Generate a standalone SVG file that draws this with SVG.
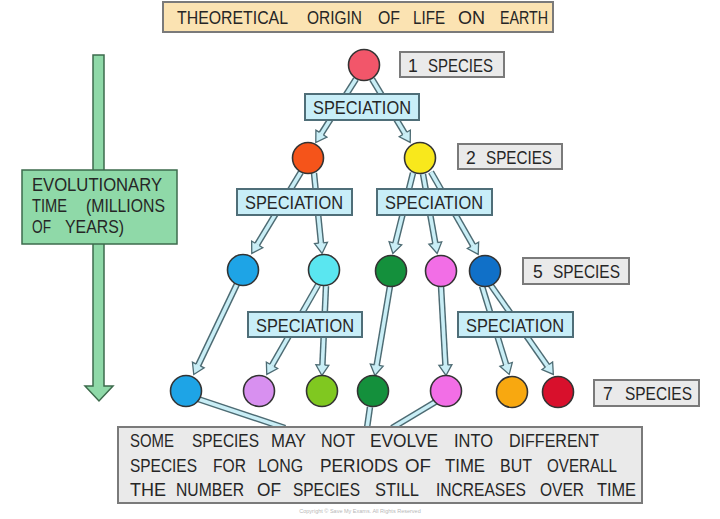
<svg xmlns="http://www.w3.org/2000/svg" width="720" height="519" viewBox="0 0 720 519">
<defs>
<style>
.t{font-family:"Liberation Sans",Arial,sans-serif;font-size:17.5px;fill:#262626;}
.sp{fill:#c8eef8;stroke:#4f6e78;stroke-width:2;}
.gb{fill:#eaeaea;stroke:#7a7a7a;stroke-width:2;}
.ao{stroke:#4d6b73;stroke-width:6.5;fill:none;}
.ai{stroke:#c9eef6;stroke-width:3.6;fill:none;}
.c{stroke:#333;stroke-width:1.6;}
</style>
<marker id="head" markerUnits="userSpaceOnUse" markerWidth="14" markerHeight="16" viewBox="-1 -8 13 16" refX="0" refY="0" orient="auto">
<path d="M0,-2.2 L0,-6.5 L10.5,0 L0,6.5 L0,2.2" fill="#c9eef6" stroke="#4d6b73" stroke-width="1.3"/>
</marker>
</defs>
<rect width="720" height="519" fill="#ffffff"/>

<g id="time-arrow">
<path d="M93,55 H104 V386 H113 L99,401 L85,386 H93 Z" fill="#8fd9a8" stroke="#3d6b4c" stroke-width="1.5"/>
</g>

<g id="connectors">
<line class="ao" x1="356" y1="79" x2="321.4" y2="133.6"/><line class="ai" x1="356" y1="79" x2="321.4" y2="133.6" marker-end="url(#head)"/>
<line class="ao" x1="372" y1="79" x2="404.8" y2="133.4"/><line class="ai" x1="372" y1="79" x2="404.8" y2="133.4" marker-end="url(#head)"/>
<line class="ao" x1="301" y1="172" x2="257.2" y2="244.4"/><line class="ai" x1="301" y1="172" x2="257.2" y2="244.4" marker-end="url(#head)"/>
<line class="ao" x1="314" y1="173" x2="321" y2="243"/><line class="ai" x1="314" y1="173" x2="321" y2="243" marker-end="url(#head)"/>
<line class="ao" x1="413" y1="173" x2="395.4" y2="243.3"/><line class="ai" x1="413" y1="173" x2="395.4" y2="243.3" marker-end="url(#head)"/>
<line class="ao" x1="423" y1="174" x2="435.3" y2="243.1"/><line class="ai" x1="423" y1="174" x2="435.3" y2="243.1" marker-end="url(#head)"/>
<line class="ao" x1="431" y1="172" x2="473" y2="245.3"/><line class="ai" x1="431" y1="172" x2="473" y2="245.3" marker-end="url(#head)"/>
<line class="ao" x1="237" y1="284" x2="198.3" y2="365"/><line class="ai" x1="237" y1="284" x2="198.3" y2="365" marker-end="url(#head)"/>
<line class="ao" x1="318" y1="285" x2="272" y2="365.3"/><line class="ai" x1="318" y1="285" x2="272" y2="365.3" marker-end="url(#head)"/>
<line class="ao" x1="326" y1="286" x2="322.4" y2="365"/><line class="ai" x1="326" y1="286" x2="322.4" y2="365" marker-end="url(#head)"/>
<line class="ao" x1="390" y1="286" x2="376.7" y2="365.1"/><line class="ai" x1="390" y1="286" x2="376.7" y2="365.1" marker-end="url(#head)"/>
<line class="ao" x1="441" y1="286" x2="445.4" y2="365"/><line class="ai" x1="441" y1="286" x2="445.4" y2="365" marker-end="url(#head)"/>
<line class="ao" x1="482" y1="286" x2="506.1" y2="364.4"/><line class="ai" x1="482" y1="286" x2="506.1" y2="364.4" marker-end="url(#head)"/>
<line class="ao" x1="490" y1="284" x2="547.3" y2="365.8"/><line class="ai" x1="490" y1="284" x2="547.3" y2="365.8" marker-end="url(#head)"/>
<line class="ao" x1="198" y1="399" x2="285" y2="428"/><line class="ai" x1="198" y1="399" x2="285" y2="428"/>
<line class="ao" x1="370" y1="407" x2="367" y2="428"/><line class="ai" x1="370" y1="407" x2="367" y2="428"/>
<line class="ao" x1="437" y1="401" x2="392" y2="428"/><line class="ai" x1="437" y1="401" x2="392" y2="428"/>
</g>

<g id="title">
<rect x="163" y="2" width="390" height="30" fill="#fbe3b2" stroke="#7a7a7a" stroke-width="2"/>
<text class="t" y="24"><tspan x="177" textLength="111" lengthAdjust="spacingAndGlyphs">THEORETICAL</tspan><tspan x="307" textLength="55" lengthAdjust="spacingAndGlyphs">ORIGIN</tspan><tspan x="378" textLength="22" lengthAdjust="spacingAndGlyphs">OF</tspan><tspan x="413" textLength="32" lengthAdjust="spacingAndGlyphs">LIFE</tspan><tspan x="458" textLength="27" lengthAdjust="spacingAndGlyphs">ON</tspan><tspan x="500" textLength="48" lengthAdjust="spacingAndGlyphs">EARTH</tspan></text>
</g>

<g id="time-label">
<rect x="22" y="170" width="155" height="74" fill="#8fd9a8" stroke="#3d6b4c" stroke-width="1.5"/>
<text class="t" x="32" y="191" textLength="130" lengthAdjust="spacingAndGlyphs">EVOLUTIONARY</text>
<text class="t" y="212"><tspan x="32" textLength="35" lengthAdjust="spacingAndGlyphs">TIME</tspan><tspan x="86" textLength="79" lengthAdjust="spacingAndGlyphs">(MILLIONS</tspan></text>
<text class="t" y="233"><tspan x="32" textLength="19" lengthAdjust="spacingAndGlyphs">OF</tspan><tspan x="65" textLength="59" lengthAdjust="spacingAndGlyphs">YEARS)</tspan></text>
</g>

<g id="label-1-species">
<rect class="gb" x="400" y="52" width="104" height="25"/>
<text class="t" y="72"><tspan x="408">1</tspan><tspan x="428" textLength="65" lengthAdjust="spacingAndGlyphs">SPECIES</tspan></text>
</g>
<g id="label-2-species">
<rect class="gb" x="458" y="144" width="104" height="25"/>
<text class="t" y="164"><tspan x="466">2</tspan><tspan x="486" textLength="66" lengthAdjust="spacingAndGlyphs">SPECIES</tspan></text>
</g>
<g id="label-5-species">
<rect class="gb" x="523" y="258" width="106" height="26"/>
<text class="t" y="278"><tspan x="533">5</tspan><tspan x="553" textLength="67" lengthAdjust="spacingAndGlyphs">SPECIES</tspan></text>
</g>
<g id="label-7-species">
<rect class="gb" x="594" y="380" width="105" height="26"/>
<text class="t" y="400"><tspan x="603">7</tspan><tspan x="625" textLength="67" lengthAdjust="spacingAndGlyphs">SPECIES</tspan></text>
</g>

<g id="speciation-1"><rect class="sp" x="305" y="94" width="114" height="26"/><text class="t" x="313" y="114" textLength="98" lengthAdjust="spacingAndGlyphs">SPECIATION</text></g>
<g id="speciation-2"><rect class="sp" x="237" y="189" width="115" height="26"/><text class="t" x="245" y="209" textLength="98" lengthAdjust="spacingAndGlyphs">SPECIATION</text></g>
<g id="speciation-3"><rect class="sp" x="377" y="189" width="115" height="26"/><text class="t" x="385" y="209" textLength="98" lengthAdjust="spacingAndGlyphs">SPECIATION</text></g>
<g id="speciation-4"><rect class="sp" x="248" y="312" width="114" height="25"/><text class="t" x="256" y="332" textLength="98" lengthAdjust="spacingAndGlyphs">SPECIATION</text></g>
<g id="speciation-5"><rect class="sp" x="458" y="312" width="115" height="25"/><text class="t" x="466" y="332" textLength="98" lengthAdjust="spacingAndGlyphs">SPECIATION</text></g>

<g id="sp-origin"><circle class="c" cx="364" cy="65" r="15.5" fill="#f2566a"/></g>
<g id="sp-orange"><circle class="c" cx="308" cy="158" r="15.5" fill="#f5541a"/></g>
<g id="sp-yellow"><circle class="c" cx="420" cy="158" r="15.5" fill="#f8e81c"/></g>
<g id="sp-r3-blue"><circle class="c" cx="243" cy="270" r="15.5" fill="#1ea4e6"/></g>
<g id="sp-r3-cyan"><circle class="c" cx="324" cy="270" r="15.5" fill="#5ae6f0"/></g>
<g id="sp-r3-green"><circle class="c" cx="391" cy="271" r="15.5" fill="#14903c"/></g>
<g id="sp-r3-pink"><circle class="c" cx="441" cy="271" r="15.5" fill="#f26ee6"/></g>
<g id="sp-r3-darkblue"><circle class="c" cx="485" cy="271" r="15.5" fill="#1070c8"/></g>
<g id="sp-r4-blue"><circle class="c" cx="186" cy="391" r="15.5" fill="#1ea4e6"/></g>
<g id="sp-r4-violet"><circle class="c" cx="259" cy="391" r="15.5" fill="#d890f0"/></g>
<g id="sp-r4-lime"><circle class="c" cx="322" cy="391" r="15.5" fill="#80c820"/></g>
<g id="sp-r4-green"><circle class="c" cx="373" cy="391" r="15.5" fill="#14903c"/></g>
<g id="sp-r4-pink"><circle class="c" cx="446" cy="391" r="15.5" fill="#f26ee6"/></g>
<g id="sp-r4-orange"><circle class="c" cx="512" cy="392" r="15.5" fill="#f8a810"/></g>
<g id="sp-r4-red"><circle class="c" cx="558" cy="392" r="15.5" fill="#d8102c"/></g>

<g id="note">
<rect class="gb" x="118" y="427" width="524" height="76"/>
<text class="t" y="447"><tspan x="130" textLength="44" lengthAdjust="spacingAndGlyphs">SOME</tspan><tspan x="192" textLength="67" lengthAdjust="spacingAndGlyphs">SPECIES</tspan><tspan x="271" textLength="35" lengthAdjust="spacingAndGlyphs">MAY</tspan><tspan x="321" textLength="34" lengthAdjust="spacingAndGlyphs">NOT</tspan><tspan x="370" textLength="68" lengthAdjust="spacingAndGlyphs">EVOLVE</tspan><tspan x="454" textLength="39" lengthAdjust="spacingAndGlyphs">INTO</tspan><tspan x="509" textLength="90" lengthAdjust="spacingAndGlyphs">DIFFERENT</tspan></text>
<text class="t" y="472"><tspan x="130" textLength="67" lengthAdjust="spacingAndGlyphs">SPECIES</tspan><tspan x="213" textLength="33" lengthAdjust="spacingAndGlyphs">FOR</tspan><tspan x="258" textLength="45" lengthAdjust="spacingAndGlyphs">LONG</tspan><tspan x="320" textLength="78" lengthAdjust="spacingAndGlyphs">PERIODS</tspan><tspan x="405" textLength="26" lengthAdjust="spacingAndGlyphs">OF</tspan><tspan x="445" textLength="40" lengthAdjust="spacingAndGlyphs">TIME</tspan><tspan x="500" textLength="32" lengthAdjust="spacingAndGlyphs">BUT</tspan><tspan x="547" textLength="70" lengthAdjust="spacingAndGlyphs">OVERALL</tspan></text>
<text class="t" y="496"><tspan x="130" textLength="36" lengthAdjust="spacingAndGlyphs">THE</tspan><tspan x="176" textLength="68" lengthAdjust="spacingAndGlyphs">NUMBER</tspan><tspan x="257" textLength="24" lengthAdjust="spacingAndGlyphs">OF</tspan><tspan x="293" textLength="67" lengthAdjust="spacingAndGlyphs">SPECIES</tspan><tspan x="375" textLength="44" lengthAdjust="spacingAndGlyphs">STILL</tspan><tspan x="436" textLength="90" lengthAdjust="spacingAndGlyphs">INCREASES</tspan><tspan x="540" textLength="44" lengthAdjust="spacingAndGlyphs">OVER</tspan><tspan x="597" textLength="39" lengthAdjust="spacingAndGlyphs">TIME</tspan></text>
</g>

<text x="360" y="513" text-anchor="middle" font-family="Liberation Sans, Arial, sans-serif" font-size="5.5" fill="#b8b8b8">Copyright © Save My Exams. All Rights Reserved</text>
</svg>
